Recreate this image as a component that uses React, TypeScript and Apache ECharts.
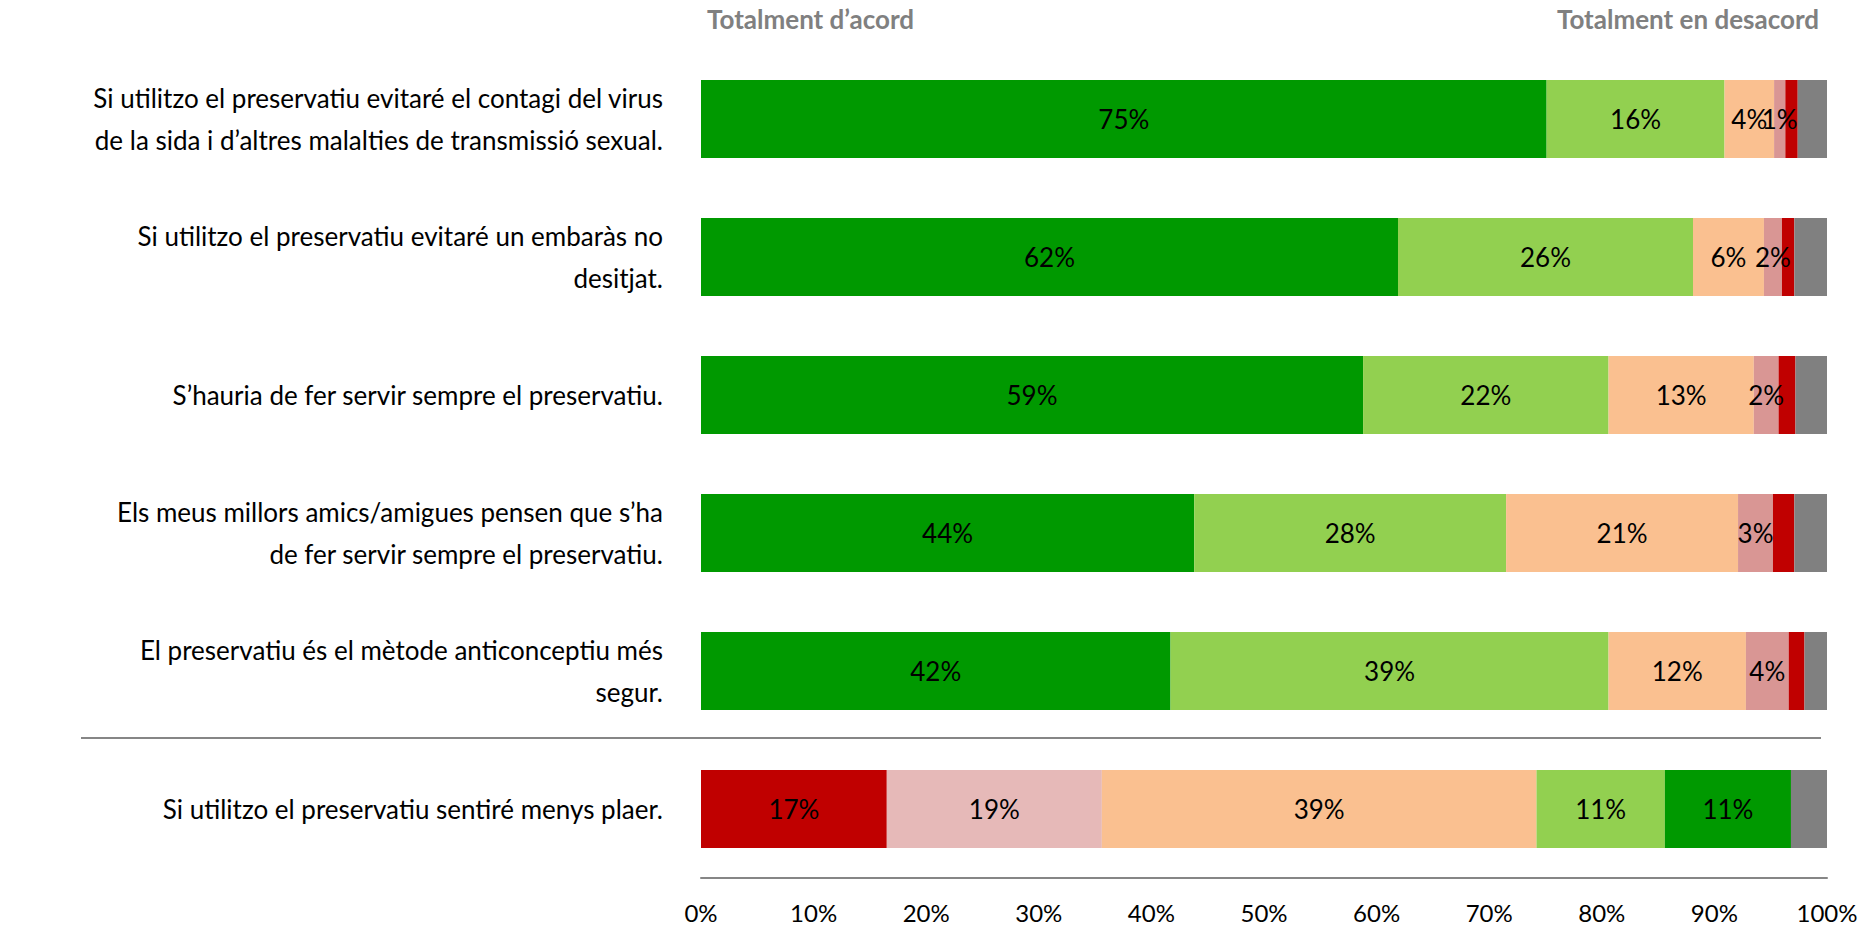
import React, { useEffect, useRef } from "react";
import * as echarts from "echarts";

const categories = [
  "Si utilitzo el preservatiu evitaré el contagi del virus\nde la sida i d’altres malalties de transmissió sexual.",
  "Si utilitzo el preservatiu evitaré un embaràs no\ndesitjat.",
  "S’hauria de fer servir sempre el preservatiu.",
  "Els meus millors amics/amigues pensen que s’ha\nde fer servir sempre el preservatiu.",
  "El preservatiu és el mètode anticonceptiu més\nsegur.",
  "Si utilitzo el preservatiu sentiré menys plaer.",
];

const levels = [
  "Totalment d’acord",
  "D’acord",
  "Ni d’acord ni en desacord",
  "En desacord",
  "Totalment en desacord",
  "NS/NC",
];

const totalmentAcord = [75.1, 61.9, 58.8, 43.8, 41.7, 16.5];
const acord = [15.8, 26.2, 21.8, 27.7, 38.9, 19.1];
const neutral = [4.4, 6.3, 12.9, 20.6, 12.2, 38.6];
const desacord = [1.0, 1.6, 2.2, 3.1, 3.8, 11.4];
const totalmentDesacord = [1.1, 1.1, 1.5, 1.9, 1.4, 11.2];
const nsnc = [2.6, 2.9, 2.8, 2.9, 2.0, 3.2];

const seriesValues = [totalmentAcord, acord, neutral, desacord, totalmentDesacord, nsnc];

const xTicks = [0, 10, 20, 30, 40, 50, 60, 70, 80, 90, 100];

const levelColors = ["#009900", "#92D050", "#FAC090", "#D99694", "#C00000", "#808080"];
// the last (negatively worded) statement uses the reversed colour scale
const reversedColors = ["#C00000", "#E6B9B8", "#FAC090", "#92D050", "#009900", "#808080"];
const reversedRow = 5;

const FONT = "Lato";

export default function App() {
  const ref = useRef<HTMLDivElement>(null);

  useEffect(() => {
    document.body.style.margin = "0";
    if (!ref.current) return;
    const chart = echarts.init(ref.current, undefined, { renderer: "svg" });

    const series = seriesValues.map((vals, si) => ({
      name: levels[si],
      type: "bar" as const,
      stack: "total",
      barWidth: 78,
      data: vals.map((v, di) => ({
        value: v,
        itemStyle: { color: di === reversedRow ? reversedColors[si] : levelColors[si] },
      })),
      label: {
        show: true,
        position: "inside" as const,
        color: "#000",
        fontFamily: FONT,
        fontSize: 26,
        formatter: (p: any) => {
          if (p.seriesIndex === 5) return "";
          if (p.seriesIndex === 4 && p.dataIndex !== reversedRow) return "";
          return Math.round(p.value) + "%";
        },
      },
    }));

    chart.setOption({
      animation: false,
      textStyle: { fontFamily: FONT },
      grid: { left: 701, right: 37, top: 50, height: 828, containLabel: false },
      xAxis: {
        type: "value",
        min: xTicks[0],
        max: xTicks[xTicks.length - 1],
        interval: 10,
        axisLine: { show: true, lineStyle: { color: "#868686", width: 2 } },
        axisTick: { show: false },
        splitLine: { show: false },
        axisLabel: {
          formatter: "{value}%",
          color: "#000",
          fontFamily: FONT,
          fontSize: 24,
          margin: 22,
        },
      },
      yAxis: {
        type: "category",
        inverse: true,
        data: categories,
        axisLine: { show: false },
        axisTick: { show: false },
        axisLabel: {
          color: "#000",
          fontFamily: FONT,
          fontSize: 26,
          lineHeight: 42,
          margin: 38,
          align: "right",
        },
      },
      graphic: [
        {
          type: "text",
          left: 707,
          top: 6,
          style: {
            text: "Totalment d’acord",
            fill: "#808080",
            font: `bold 26px ${FONT}`,
          },
        },
        {
          type: "text",
          right: 45,
          top: 6,
          style: {
            text: "Totalment en desacord",
            fill: "#808080",
            font: `bold 26px ${FONT}`,
          },
        },
        {
          type: "line",
          shape: { x1: 81, y1: 738, x2: 1821, y2: 738 },
          style: { stroke: "#868686", lineWidth: 2 },
        },
      ],
      series,
    });

    return () => chart.dispose();
  }, []);

  return <div ref={ref} style={{ width: 1864, height: 927 }} />;
}
